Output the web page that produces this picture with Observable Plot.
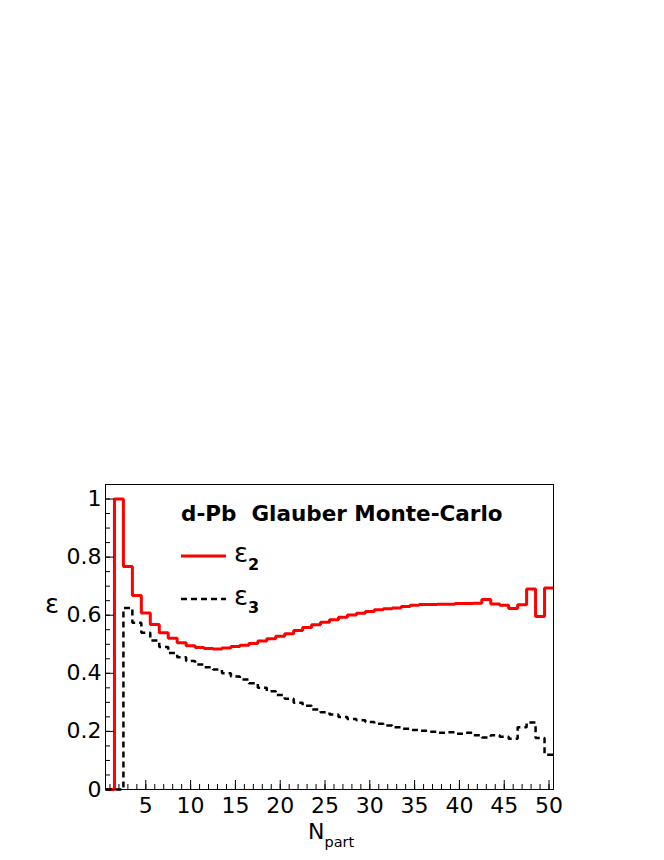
<!DOCTYPE html>
<html><head><meta charset="utf-8">
<script src="https://cdn.jsdelivr.net/npm/d3@7"></script>
<script src="https://cdn.jsdelivr.net/npm/@observablehq/plot@0.6"></script>
<style>
body{margin:0;background:#fff}
#chart svg{font-family:"DejaVu Sans",sans-serif}
</style>
</head><body><div id="chart"></div>
<script>
// N_part bins (centres)
const npart = d3.range(1, 51);
// eccentricity epsilon_2 per N_part bin
const eps2 = [0, 1.0, 0.768, 0.668, 0.608, 0.568, 0.540, 0.521, 0.505, 0.495,
  0.489, 0.485, 0.484, 0.487, 0.492, 0.497, 0.503, 0.511, 0.519, 0.528,
  0.536, 0.547, 0.558, 0.567, 0.576, 0.584, 0.593, 0.601, 0.607, 0.613,
  0.619, 0.622, 0.625, 0.630, 0.634, 0.637, 0.637, 0.638, 0.638, 0.640,
  0.640, 0.641, 0.654, 0.639, 0.634, 0.623, 0.636, 0.690, 0.596, 0.694];
// eccentricity epsilon_3 per N_part bin
const eps3 = [0, 0, 0.625, 0.574, 0.540, 0.513, 0.491, 0.470, 0.455, 0.442,
  0.430, 0.421, 0.413, 0.400, 0.389, 0.379, 0.366, 0.350, 0.338, 0.325,
  0.312, 0.299, 0.288, 0.275, 0.266, 0.258, 0.250, 0.243, 0.238, 0.232,
  0.226, 0.220, 0.214, 0.209, 0.205, 0.202, 0.199, 0.195, 0.197, 0.192,
  0.195, 0.187, 0.179, 0.187, 0.182, 0.175, 0.214, 0.231, 0.177, 0.120];
const xMajor = [5, 10, 15, 20, 25, 30, 35, 40, 45, 50];
const yMajor = [0, 0.2, 0.4, 0.6, 0.8, 1];
const yMajorLabels = ["0", "0.2", "0.4", "0.6", "0.8", "1"];
const yMinor = d3.range(0, 22).map(i => i * 0.05);
const legendTitle = "d-Pb  Glauber Monte-Carlo";
const seriesNames = ["2", "3"];

function steps(vals) {
  const out = [];
  npart.forEach((n, i) => { out.push({x: n - 0.5, y: vals[i]}, {x: n + 0.5, y: vals[i]}); });
  return out;
}

function overlay(index, scales, values, dims) {
  const g = d3.create("svg:g").attr("fill", "black").attr("text-anchor", "start")
    .attr("font-family", "'DejaVu Sans', sans-serif");
  const L = dims.marginLeft, T = dims.marginTop;
  const R = dims.width - dims.marginRight, B = dims.height - dims.marginBottom;
  // legend title
  g.append("text").attr("x", L + 76).attr("y", T + 37)
    .attr("font-size", 21.5).attr("font-weight", "bold").style("white-space", "pre")
    .text(legendTitle);
  // legend entries
  const entries = [
    {y: T + 72, stroke: "red", dash: null, sw: 3, sub: seriesNames[0]},
    {y: T + 115, stroke: "black", dash: "6,4", sw: 2.5, sub: seriesNames[1]}
  ];
  for (const e of entries) {
    g.append("line").attr("x1", L + 76).attr("x2", L + 121).attr("y1", e.y).attr("y2", e.y)
      .attr("stroke", e.stroke).attr("stroke-width", e.sw).attr("stroke-dasharray", e.dash);
    const t = g.append("text").attr("x", L + 129).attr("y", e.y + 6).attr("font-size", 26);
    t.append("tspan").text("ε");
    t.append("tspan").attr("dy", 8).attr("font-size", 16).attr("font-weight", "bold").text(e.sub);
  }
  // axis titles
  g.append("text").attr("x", 52).attr("y", 613).attr("text-anchor", "middle")
    .attr("font-size", 26).text("ε");
  const xt = g.append("text").attr("x", L + 203).attr("y", B + 50).attr("font-size", 22);
  xt.append("tspan").text("N");
  xt.append("tspan").attr("dy", 8).attr("font-size", 14.5).text("part");
  return g.node();
}

const chart = Plot.plot({
  width: 664, height: 860,
  marginLeft: 105, marginRight: 111, marginTop: 484, marginBottom: 71,
  x: {domain: [0.5, 50.5]},
  y: {domain: [0, 1.05]},
  style: {fontFamily: "'DejaVu Sans', sans-serif", color: "black", background: "white"},
  marks: [
    Plot.line(steps(eps2), {x: "x", y: "y", stroke: "red", strokeWidth: 3, strokeLinejoin: "miter", strokeLinecap: "butt"}),
    Plot.line(steps(eps3), {x: "x", y: "y", stroke: "black", strokeWidth: 2.5, strokeDasharray: "6,4", strokeLinejoin: "miter", strokeLinecap: "butt"}),
    Plot.frame({stroke: "black", strokeWidth: 1}),
    Plot.axisX(npart, {tickSize: -5, tickFormat: () => "", label: null}),
    Plot.axisX(xMajor, {tickSize: -9, tickFormat: () => "", label: null}),
    Plot.axisX(xMajor, {tickSize: 0, tickPadding: 8, fontSize: 22, label: null}),
    Plot.axisY(yMinor, {tickSize: -5, tickFormat: () => "", label: null}),
    Plot.axisY(yMajor, {tickSize: -9, tickFormat: () => "", label: null}),
    Plot.axisY(yMajor, {tickSize: 0, tickPadding: 4, fontSize: 22, label: null,
      tickFormat: d => yMajorLabels[yMajor.indexOf(d)]}),
    overlay
  ]
});
document.getElementById("chart").appendChild(chart);
</script>
</body></html>
